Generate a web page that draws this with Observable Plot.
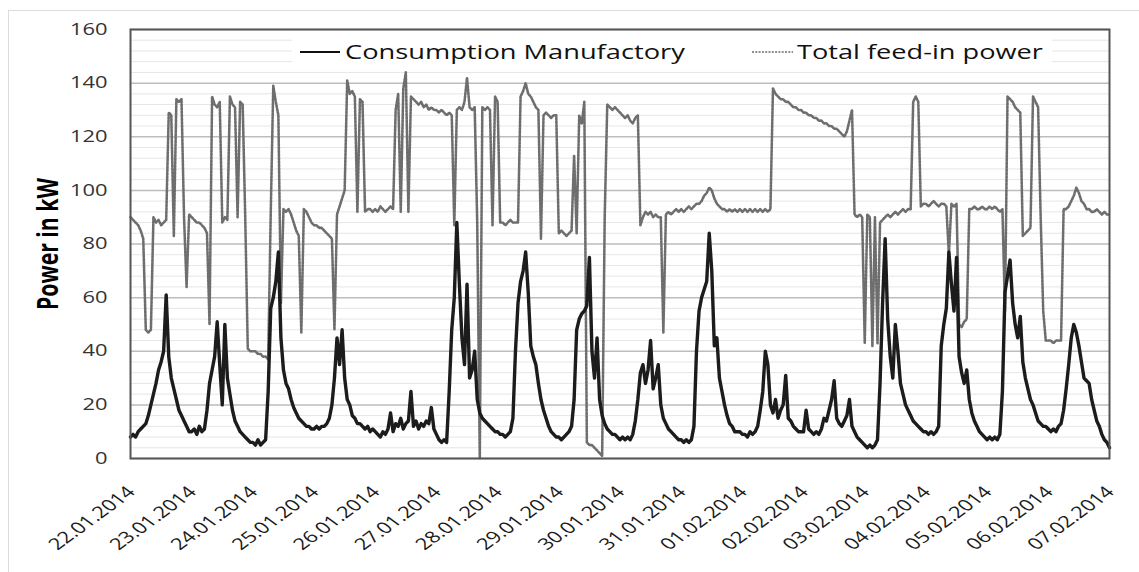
<!DOCTYPE html>
<html><head><meta charset="utf-8">
<script src="https://cdn.jsdelivr.net/npm/d3@7"></script>
<script src="https://cdn.jsdelivr.net/npm/@observablehq/plot@0.6"></script>
<style>
html,body{margin:0;padding:0;background:#fff;overflow:hidden}
#wrap{position:relative;width:1139px;height:572px;overflow:hidden}
#border{position:absolute;left:8px;top:10px;width:1300px;height:800px;border:1px solid #dcdcdc;box-sizing:border-box}
#chart{position:absolute;left:0;top:0}
</style></head><body>
<div id="wrap"><div id="border"></div><div id="chart"></div></div>
<script>
// ---- data (hourly readings, 22.01.2014 00:00 to 07.02.2014 00:00) ----
const startDate = Date.UTC(2014, 0, 22);
const tickLabels = ["22.01.2014","23.01.2014","24.01.2014","25.01.2014","26.01.2014","27.01.2014","28.01.2014","29.01.2014","30.01.2014","31.01.2014","01.02.2014","02.02.2014","03.02.2014","04.02.2014","05.02.2014","06.02.2014","07.02.2014"];
const yTicks = [0, 20, 40, 60, 80, 100, 120, 140, 160];
const yMinorTicks = [4,8,12,16,24,28,32,36,44,48,52,56,64,68,72,76,84,88,92,96,104,108,112,116,124,128,132,136,144,148,152,156];
const seriesNames = ["Consumption Manufactory", "Total feed-in power"];
const yTitle = "Power in kW";

const consumption = [
  8,9,8,10,11,12,13,16,20,24,28,33,36,40,61,38,30,26,22,18,16,14,12,10,
  10,11,9,12,10,11,18,28,33,38,51,35,20,50,30,24,18,14,12,10,9,8,7,6,
  6,5,7,5,6,7,25,56,60,66,77,45,33,28,26,22,19,17,15,14,13,12,12,11,
  11,12,11,12,12,13,15,20,30,45,35,48,30,22,20,16,15,13,13,12,11,12,10,11,
  10,9,8,10,9,11,17,10,13,12,15,11,13,14,25,12,14,11,13,12,14,13,19,11,
  9,7,6,7,6,25,48,60,88,65,45,35,65,30,33,40,22,17,15,14,13,12,11,10,
  10,9,9,8,9,10,15,40,58,66,70,77,62,42,38,35,28,22,18,15,12,10,9,8,
  8,7,8,9,10,12,22,48,52,54,55,57,75,40,30,45,22,16,13,11,10,9,9,8,
  7,8,7,8,7,9,14,22,32,35,28,33,44,26,30,35,20,15,13,11,10,9,8,7,
  7,6,7,6,7,12,40,55,60,63,66,84,70,42,45,30,25,20,16,13,12,10,10,10,
  9,9,8,10,9,10,12,18,25,40,35,20,17,22,15,18,20,31,15,14,12,11,10,10,
  10,18,11,10,9,10,9,11,15,14,18,22,29,15,13,12,14,16,22,12,10,8,7,6,
  5,4,5,4,5,7,28,58,82,52,38,30,50,40,28,24,20,18,16,14,13,12,11,10,
  10,9,10,9,10,12,42,50,56,77,65,55,75,38,32,28,33,22,17,14,12,10,9,8,
  7,8,7,8,7,9,25,62,68,74,58,50,45,53,36,30,26,22,20,17,14,13,12,12,
  11,10,11,10,12,13,18,26,35,45,50,47,42,36,30,29,28,22,18,14,12,9,7,6,
  4
];

const feedIn = [
  90,89,88,87,85,82,48,47,48,90,88,89,87,88,89,129,128,83,134,133,134,90,64,91,
  90,89,88,88,87,86,84,50,135,132,131,133,88,90,89,135,132,131,90,133,132,90,41,40,
  40,40,39,39,38,38,37,91,139,133,128,58,93,92,93,91,88,85,83,47,93,92,90,88,
  87,87,86,86,85,84,83,82,48,91,94,97,100,141,136,137,135,92,134,133,92,93,93,92,
  93,92,94,93,92,93,94,93,130,136,92,138,144,92,135,134,133,132,133,131,132,130,131,130,
  130,129,130,129,128,129,128,87,130,131,130,133,142,131,130,131,88,0,131,130,131,130,87,135,
  133,88,88,87,88,89,88,88,88,135,137,140,136,135,133,131,130,82,128,129,128,127,128,128,
  84,85,84,83,84,85,113,84,128,125,133,6,5,5,4,3,2,1,90,132,131,130,131,130,
  129,128,127,128,126,125,127,128,87,90,92,91,92,90,91,90,90,47,91,92,91,92,93,92,
  93,92,93,94,93,94,95,95,96,98,99,101,100,97,95,94,93,93,92,93,92,93,92,93,
  92,93,92,93,92,93,92,93,92,93,92,93,138,136,135,134,134,133,133,132,131,131,130,130,
  129,129,128,128,127,127,126,126,125,125,124,124,123,123,122,121,120,122,126,130,91,90,91,90,
  43,91,90,42,90,43,88,89,90,91,90,91,92,91,92,93,92,93,93,133,135,133,94,95,
  95,94,95,96,95,94,95,95,94,76,95,94,95,50,49,51,52,93,93,94,93,93,94,93,
  93,94,93,94,93,92,93,55,135,134,133,131,130,129,83,84,85,86,135,133,131,90,55,44,
  44,44,43,44,44,44,93,93,94,96,98,101,99,96,95,93,93,92,92,93,92,91,92,91,
  91
];

// ---- build tables ----
const HOUR = 3600e3, DAY = 864e5;
const consRows = consumption.map((v, i) => ({t: new Date(startDate + i * HOUR), v}));
const feedRows = feedIn.map((v, i) => ({t: new Date(startDate + i * HOUR), v}));
const tickDates = tickLabels.map((_, i) => new Date(startDate + i * DAY));
const SX = 1.37; // horizontal stretch of the original picture's text

const chart = Plot.plot({
  width: 1139,
  height: 572,
  marginLeft: 130,
  marginRight: 30,
  marginTop: 29,
  marginBottom: 114,
  style: {fontFamily: "'Open Sans', sans-serif", fontSize: "16px", color: "#262626", background: "transparent", overflow: "visible"},
  x: {type: "utc", domain: [tickDates[0], tickDates[tickDates.length - 1]]},
  y: {domain: [0, 160]},
  marks: [
    Plot.ruleY(yMinorTicks, {stroke: "#e6e6e6", strokeWidth: 1}),
    Plot.ruleY(yTicks, {stroke: "#bdbdbd", strokeWidth: 1.5}),
    Plot.line(feedRows, {x: "t", y: "v", stroke: "#6e6e6e", strokeWidth: 2.6, strokeDasharray: "2,1.5", curve: "linear"}),
    Plot.line(consRows, {x: "t", y: "v", stroke: "#1c1c1c", strokeWidth: 3.4, curve: "linear"}),
    Plot.frame({stroke: "#555", strokeWidth: 2}),
    Plot.axisY({ticks: yTicks, tickSize: 0, tickPadding: 23, tickRotate: 1e-6, textAnchor: "end", label: null, fill: "#333"}),
    Plot.axisX({ticks: tickDates, tickSize: 0, tickPadding: 22, dx: 1, dy: 9, tickRotate: -45, label: null, fill: "#1a1a1a",
      tickFormat: d => tickLabels[Math.round((d - startDate) / DAY)]})
  ]
});
document.getElementById("chart").appendChild(chart);

// stretch axis text horizontally like the original
chart.querySelectorAll('g[aria-label="x-axis tick label"] text, g[aria-label="y-axis tick label"] text').forEach(t => {
  const tr = t.getAttribute("transform") || "";
  if (tr.includes("rotate(")) t.setAttribute("transform", tr.replace("rotate(", `scale(${SX},1) rotate(`));
});

const svg = d3.select(chart);
// y title
const yt = svg.append("text").text(yTitle)
  .attr("text-anchor", "middle").attr("font-weight", "bold").attr("font-size", 21)
  .attr("fill", "#000").attr("font-family", "'Open Sans', sans-serif");
const natLen = yt.node().getComputedTextLength();
yt.attr("font-size", 21 * 132 / natLen)
  .attr("transform", `translate(58,244) scale(${SX},1) rotate(-90)`);

// legend
const lg = svg.append("g").attr("text-anchor", "start");
lg.append("rect").attr("x", 292).attr("y", 35).attr("width", 760).attr("height", 30).attr("fill", "#fff");
lg.append("line").attr("x1", 300).attr("x2", 340).attr("y1", 52).attr("y2", 52).attr("stroke", "#111").attr("stroke-width", 2);
lg.append("line").attr("x1", 752).attr("x2", 793).attr("y1", 52).attr("y2", 52).attr("stroke", "#6b6b6b").attr("stroke-width", 1.6).attr("stroke-dasharray", "2,1.3");
[[seriesNames[0], 345, 340], [seriesNames[1], 797, 246]].forEach(([s, x, w]) => {
  const t = lg.append("text").text(s).attr("font-size", 20).attr("fill", "#111")
    .attr("text-anchor", "start").attr("font-family", "'Open Sans', sans-serif");
  const len = t.node().getComputedTextLength();
  t.attr("transform", `translate(${x},59) scale(${w / len},1)`);
});
</script></body></html>
